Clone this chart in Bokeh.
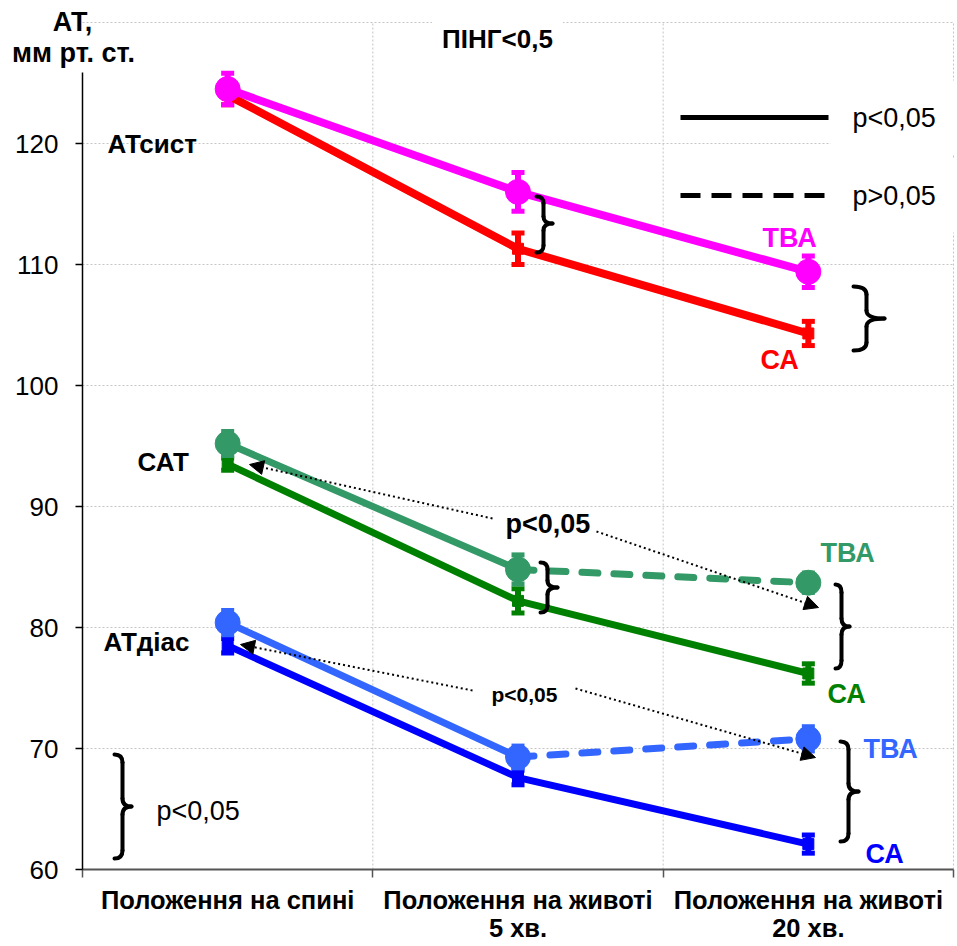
from bokeh.plotting import figure
from bokeh.models import (FixedTicker, Whisker, TeeHead, ColumnDataSource, Label,
                          Arrow, NormalHead, Range1d, LinearAxis)
from bokeh.embed import file_html
from bokeh.resources import INLINE

# ---------------- data ----------------
positions = ["Положення на спині", "Положення на животі\n5 хв.", "Положення на животі\n20 хв."]
x_pos = [0.5, 1.5, 2.5]           # category centres on a 0..3 axis
x_bounds = [0, 1, 2, 3]           # category boundaries
y_ticks = [60, 70, 80, 90, 100, 110, 120]
y_grid = [70, 80, 90, 100, 110, 120, 130]

sys_tva = [124.5, 116.0, 109.4]
sys_tva_err = [1.3, 1.6, 1.3]
sys_ca = [124.0, 111.3, 104.3]
sys_ca_err = [0.8, 1.3, 1.0]

sat_tva = [95.2, 84.8, 83.7]
sat_tva_err = [1.0, 1.2, 0.8]
sat_ca = [93.5, 82.2, 76.2]
sat_ca_err = [0.5, 1.0, 0.8]

dia_tva = [80.4, 69.3, 70.8]
dia_tva_err = [1.0, 0.9, 1.0]
dia_ca = [78.5, 67.6, 62.1]
dia_ca_err = [0.6, 0.6, 0.75]

# segment styles (between successive positions)
sys_tva_dash = ["solid", "solid"]
sat_tva_dash = ["solid", "dashed"]
dia_tva_dash = ["solid", "dashed"]
ca_dash = ["solid", "solid"]

FONT = "Liberation Sans"

# ---------------- figure ----------------
W, H = 957, 946
FL, FR, FT, FB = 82, 953, 22, 869   # pixel box of the 0..3 x 60..130 data area


def px2x(px):
    return (px - FL) * 3.0 / (FR - FL)


def px2y(py):
    return 60 + (FB - py) * 70.0 / (FB - FT)


p = figure(width=W, height=H, title=None,
           x_range=Range1d(px2x(0), px2x(W)), y_range=Range1d(px2y(H), px2y(0)),
           output_backend="svg", toolbar_location=None,
           x_axis_type=None, y_axis_type=None,
           min_border=0, min_border_left=0, min_border_right=0,
           min_border_top=0, min_border_bottom=0)
p.outline_line_color = None
p.background_fill_color = "white"
p.border_fill_color = "white"
p.xgrid.visible = False
p.ygrid.visible = False

# grid lines (dotted grey)
p.segment(x0=[0] * len(y_grid), y0=y_grid, x1=[3] * len(y_grid), y1=y_grid,
          line_color="#c4c4c4", line_width=1, line_dash="2 2", level="underlay")
p.segment(x0=x_bounds[1:], y0=[60] * 3, x1=x_bounds[1:], y1=[130] * 3,
          line_color="#c4c4c4", line_width=1, line_dash="2 2", level="underlay")

# y axis
yax = LinearAxis(fixed_location=0, ticker=FixedTicker(ticks=y_ticks),
                 bounds=(60, px2y(72)))
yax.axis_line_color = "black"
yax.axis_line_width = 1.5
yax.major_tick_out = 7
yax.major_tick_in = 0
yax.major_tick_line_width = 1.5
yax.minor_tick_line_color = None
yax.major_label_text_font = FONT
yax.major_label_text_font_size = "26px"
yax.major_label_text_color = "black"
yax.major_label_standoff = 17
p.add_layout(yax, "left")

# x axis: ticks at category boundaries, labels at centres
xax = LinearAxis(fixed_location=60,
                 ticker=FixedTicker(ticks=x_pos, minor_ticks=x_bounds),
                 bounds=(0, 3))
xax.axis_line_color = "#555555"
xax.axis_line_width = 2
xax.major_tick_line_color = None
xax.major_tick_out = 0
xax.major_tick_in = 0
xax.minor_tick_out = 8
xax.minor_tick_in = 0
xax.minor_tick_line_color = "#555555"
xax.minor_tick_line_width = 1.5
xax.major_label_overrides = {x: t for x, t in zip(x_pos, positions)}
xax.major_label_text_font = FONT
xax.major_label_text_font_style = "bold"
xax.major_label_text_font_size = "25.5px"
xax.major_label_text_line_height = 1.0
xax.major_label_text_color = "black"
xax.major_label_standoff = 8
p.add_layout(xax, "below")

# ---------------- series ----------------
groups = [
    (sys_ca, sys_ca_err, "#FF0000", "ca", ca_dash, 8),
    (sys_tva, sys_tva_err, "#FF00FF", "tva", sys_tva_dash, 8),
    (sat_ca, sat_ca_err, "#008000", "ca", ca_dash, 7),
    (sat_tva, sat_tva_err, "#339966", "tva", sat_tva_dash, 7),
    (dia_ca, dia_ca_err, "#0000FF", "ca", ca_dash, 7),
    (dia_tva, dia_tva_err, "#3366FF", "tva", dia_tva_dash, 7),
]

for vals, errs, col, kind, dashes, lw in groups:
    lo = [v - e for v, e in zip(vals, errs)]
    hi = [v + e for v, e in zip(vals, errs)]
    src = ColumnDataSource(dict(x=x_pos, y=vals, lo=lo, hi=hi))
    p.add_layout(Whisker(base="x", lower="lo", upper="hi", source=src,
                         line_color=col, line_width=6,
                         upper_head=TeeHead(size=13, line_color=col, line_width=5),
                         lower_head=TeeHead(size=13, line_color=col, line_width=5)))
    for i, d in enumerate(dashes):
        if d == "solid":
            p.segment(x0=[x_pos[i]], y0=[vals[i]], x1=[x_pos[i + 1]], y1=[vals[i + 1]],
                      line_color=col, line_width=lw, line_cap="round")
        else:
            p.segment(x0=[x_pos[i]], y0=[vals[i]], x1=[x_pos[i + 1]], y1=[vals[i + 1]],
                      line_color=col, line_width=lw, line_dash="16 16", line_cap="round")
    if kind == "tva":
        p.scatter("x", "y", source=src, marker="circle", size=25,
                  fill_color=col, line_color=col)
    else:
        p.scatter("x", "y", source=src, marker="square", size=11,
                  fill_color=col, line_color=col)


# ---------------- braces ----------------
def brace(xl, xs, xt, ytop, ymid, ybot, r=8):
    q = dict(line_color="black", line_width=4, line_cap="round")
    p.quadratic(x0=[px2x(xl)], y0=[px2y(ytop)], x1=[px2x(xs)], y1=[px2y(ytop + r)],
                cx=[px2x(xs)], cy=[px2y(ytop)], **q)
    p.segment(x0=[px2x(xs)], y0=[px2y(ytop + r)], x1=[px2x(xs)], y1=[px2y(ymid - r)], **q)
    p.quadratic(x0=[px2x(xs)], y0=[px2y(ymid - r)], x1=[px2x(xt)], y1=[px2y(ymid)],
                cx=[px2x(xs)], cy=[px2y(ymid)], **q)
    p.quadratic(x0=[px2x(xt)], y0=[px2y(ymid)], x1=[px2x(xs)], y1=[px2y(ymid + r)],
                cx=[px2x(xs)], cy=[px2y(ymid)], **q)
    p.segment(x0=[px2x(xs)], y0=[px2y(ymid + r)], x1=[px2x(xs)], y1=[px2y(ybot - r)], **q)
    p.quadratic(x0=[px2x(xs)], y0=[px2y(ybot - r)], x1=[px2x(xl)], y1=[px2y(ybot)],
                cx=[px2x(xs)], cy=[px2y(ybot)], **q)


brace(536, 543, 552, 196, 223, 252, r=7)
brace(853, 866, 884, 286, 318, 350)
brace(540, 547, 557, 562, 587, 612, r=7)
brace(835, 841, 849, 584, 626, 668)
brace(840, 848, 858, 741, 791, 841)
brace(114, 122, 131, 754, 806, 858)


# ---------------- dotted arrows ----------------
def arrow(xs, ys, xe, ye):
    p.add_layout(Arrow(x_start=px2x(xs), y_start=px2y(ys), x_end=px2x(xe), y_end=px2y(ye),
                       line_color="black", line_width=2, line_dash="2 3",
                       end=NormalHead(size=14, fill_color="black", line_color="black")))


arrow(492, 518, 249, 464)
arrow(596, 531, 818, 607)
arrow(472, 690, 240, 644)
arrow(575, 688, 815, 757)

# ---------------- legend ----------------
p.segment(x0=[px2x(680)], y0=[px2y(117)], x1=[px2x(828)], y1=[px2y(117)],
          line_color="black", line_width=5)
p.segment(x0=[px2x(680)], y0=[px2y(195)], x1=[px2x(830)], y1=[px2y(195)],
          line_color="black", line_width=5, line_dash="20 11")


def label(text, px, py, size=24, bold=True, color="black", align="left", bg=None, pad=0):
    kw = {}
    if bg:
        kw = dict(background_fill_color=bg, padding=pad)
    p.add_layout(Label(x=px2x(px), y=px2y(py), text=text, text_font=FONT,
                       text_font_size=f"{size}px",
                       text_font_style="bold" if bold else "normal",
                       text_color=color, text_align=align, text_baseline="middle", **kw))


label("p<0,05", 852 - 22, 117, size=27, bold=False, bg="white", pad=22)
label("p>0,05", 852 - 22, 195, size=27, bold=False, bg="white", pad=22)

# ---------------- text annotations ----------------
label("ПІНГ<0,5", 497, 38, size=26, align="center", bg="white", pad=10)
label("АТ,", 72, 21, size=27, align="center")
label("мм рт. ст.", 73, 52, size=27, align="center")

label("АТсист", 107, 143, size=26)
label("САТ", 137, 461, size=26)
label("АТдіас", 103, 641, size=26)

label("ТВА", 762, 237, size=27, color="#FF00FF")
label("СА", 760, 359, size=27, color="#FF0000")
label("ТВА", 820, 552, size=27, color="#339966")
label("СА", 827, 693, size=27, color="#008000")
label("ТВА", 863, 748, size=27, color="#3366FF")
label("СА", 865, 853, size=27, color="#0000FF")

label("p<0,05", 505, 523, size=27)
label("p<0,05", 491, 694, size=21)
label("p<0,05", 156, 810, size=27, bold=False)

open("out.html", "w").write(file_html(p, INLINE))
